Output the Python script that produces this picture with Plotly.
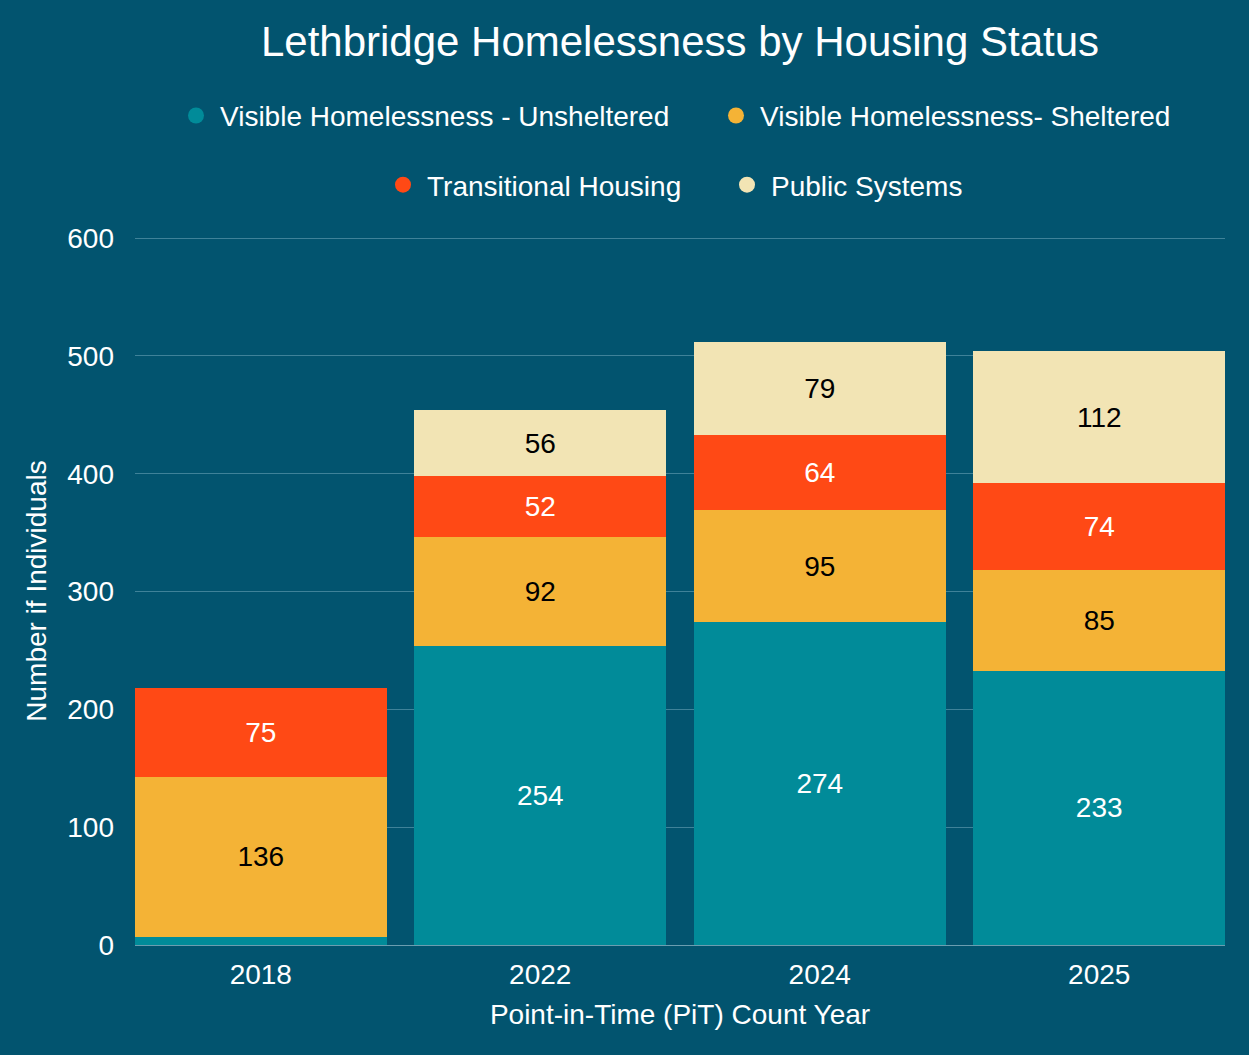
import plotly.graph_objects as go

years = ["2018", "2022", "2024", "2025"]
unsheltered = [7, 254, 274, 233]
sheltered = [136, 92, 95, 85]
transitional = [75, 52, 64, 74]
public_systems = [None, 56, 79, 112]

series_names = [
    "Visible Homelessness - Unsheltered",
    "Visible Homelessness- Sheltered",
    "Transitional Housing",
    "Public Systems",
]
series_values = [unsheltered, sheltered, transitional, public_systems]
colors = ["#018B99", "#F4B336", "#FF4915", "#F2E4B4"]
label_colors = ["#FFFFFF", "#000000", "#FFFFFF", "#000000"]
legend_ids = ["legend", "legend2", "legend3", "legend4"]

BG = "#02546F"
FONT = "Liberation Sans, Arial, sans-serif"

fig = go.Figure()
for name, vals, col, lc in zip(series_names, series_values, colors, label_colors):
    fig.add_trace(go.Bar(
        x=years, y=vals, name=name, marker_color=col, marker_line_width=0,
        text=[("" if v is None else str(v)) for v in vals],
        textposition="inside", insidetextanchor="middle",
        textfont=dict(color=lc, size=28, family=FONT),
        showlegend=False, hoverinfo="x+y+name",
    ))

# legend entries with circular symbols
for name, col, lg in zip(series_names, colors, legend_ids):
    fig.add_trace(go.Scatter(
        x=[None], y=[None], mode="markers", name=name,
        marker=dict(symbol="circle", size=16, color=col),
        legend=lg, showlegend=True,
    ))

# legend placement: (left x in paper fraction, y in paper fraction)
PLOT_L, PLOT_W, PLOT_T, PLOT_H = 135, 1090, 238, 707
legend_left_px = [172, 712, 379, 723]
legend_row_px = [117, 117, 186, 186]


def legend_layout(lx, ly):
    return dict(
        orientation="h", x=(lx - PLOT_L) / PLOT_W, xanchor="left", xref="paper",
        y=(PLOT_T + PLOT_H - ly) / PLOT_H, yanchor="middle",
        itemwidth=38,
        font=dict(size=28, color="#FFFFFF", family=FONT),
        bgcolor="rgba(0,0,0,0)",
    )


legends = {lg: legend_layout(lx, ly)
           for lg, lx, ly in zip(legend_ids, legend_left_px, legend_row_px)}

fig.update_layout(
    width=1249, height=1055,
    paper_bgcolor=BG, plot_bgcolor=BG,
    barmode="stack", bargap=0.1,
    margin=dict(l=135, r=24, t=237, b=110),
    font=dict(family=FONT, color="#FFFFFF", size=28),
    uniformtext=dict(minsize=28, mode="hide"),
    title=dict(
        text="Lethbridge Homelessness by Housing Status",
        x=0.5, xref="paper", xanchor="center",
        y=1 - 41 / 1055, yref="container", yanchor="middle",
        font=dict(size=42, color="#FFFFFF", family=FONT),
    ),
    xaxis=dict(
        type="category", range=[-0.45, 3.45],
        showgrid=False, showline=False, zeroline=False,
        tickfont=dict(size=28, color="#FFFFFF"),
        ticklabelstandoff=10,
        title=dict(text="Point-in-Time (PiT) Count Year", standoff=15,
                   font=dict(size=28, color="#FFFFFF")),
        automargin=False,
    ),
    yaxis=dict(
        range=[0, 601], tickvals=[0, 100, 200, 300, 400, 500, 600],
        showgrid=True, gridcolor="#3F8299", gridwidth=1,
        zeroline=True, zerolinecolor="#6B9DB0", zerolinewidth=1,
        showline=False,
        tickfont=dict(size=28, color="#FFFFFF"),
        ticklabelstandoff=20,
        title=dict(text="Number if Individuals", standoff=12,
                   font=dict(size=28, color="#FFFFFF")),
        automargin=False,
    ),
    **legends,
)

fig.write_html(
    "out.html",
    config={"displayModeBar": False},
    post_script="document.body.style.margin='0';document.body.style.padding='0';",
)
